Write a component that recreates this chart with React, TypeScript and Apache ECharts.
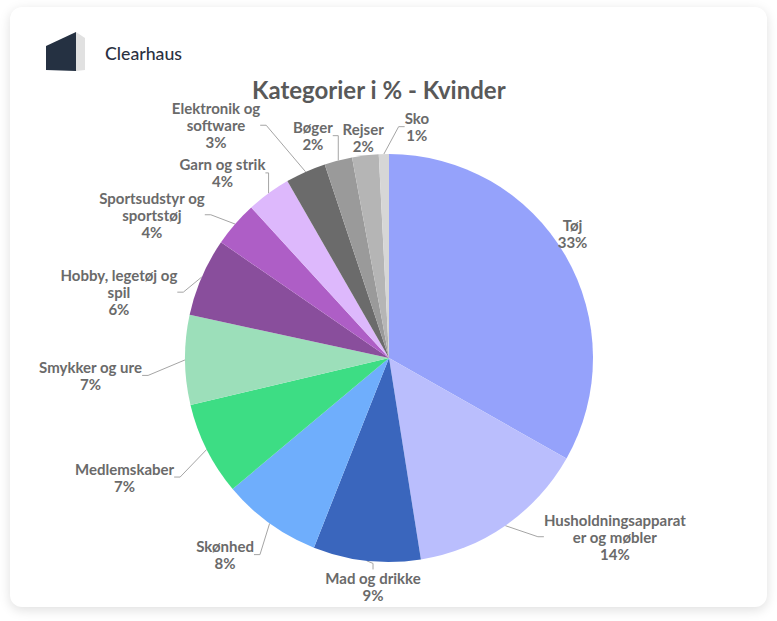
import React, { useEffect, useRef } from "react";
import * as echarts from "echarts";

const categories = [
  "Tøj",
  "Husholdningsapparater og møbler",
  "Mad og drikke",
  "Skønhed",
  "Medlemskaber",
  "Smykker og ure",
  "Hobby, legetøj og spil",
  "Sportsudstyr og sportstøj",
  "Garn og strik",
  "Elektronik og software",
  "Bøger",
  "Rejser",
  "Sko",
];
const labelText = [
  "Tøj",
  "Husholdningsapparat\ner og møbler",
  "Mad og drikke",
  "Skønhed",
  "Medlemskaber",
  "Smykker og ure",
  "Hobby, legetøj og\nspil",
  "Sportsudstyr og\nsportstøj",
  "Garn og strik",
  "Elektronik og\nsoftware",
  "Bøger",
  "Rejser",
  "Sko",
];
const shares = [33.2, 14.3, 8.5, 7.9, 7.4, 7.1, 6.2, 3.6, 3.5, 3.2, 2.2, 2.1, 0.8];
const percentLabels = [33, 14, 9, 8, 7, 7, 6, 4, 4, 3, 2, 2, 1];
const colors = [
  "#95a2fb",
  "#babefd",
  "#3a66bd",
  "#6faefc",
  "#3ddd84",
  "#9cdfba",
  "#894e9c",
  "#ae5ec6",
  "#ddb8fc",
  "#6b6b6b",
  "#9a9a9a",
  "#b5b5b5",
  "#d6d6d6",
];

// layout (label placement relative to each slice's mid-angle)
const CX = 389;
const CY = 358;
const R = 204;
const labelAngleShift = [-4, -16.9, -2.3, 4, 2.4, -2.8, -9.7, -9.9, -5.8, -12.5, -4.5, 0, 8.3];
const labelRadius = [222, 288, 229, 256, 290, 299, 278, 277, 249, 290, 235, 222.5, 233];
const noLine = [0, 11];

const FONT = "Lato, 'Noto Sans', sans-serif";

export default function App() {
  const ref = useRef<HTMLDivElement>(null);

  useEffect(() => {
    if (!ref.current) return;
    const chart = echarts.init(ref.current, undefined, { renderer: "svg" });
    const total = shares.reduce((a, b) => a + b, 0);
    const mids: number[] = [];
    let cum = 0;
    shares.forEach((v) => {
      mids.push(((cum + v / 2) / total) * 360);
      cum += v;
    });

    chart.setOption({
      animation: false,
      backgroundColor: "transparent",
      title: {
        text: "Kategorier i % - Kvinder",
        left: 247,
        top: 72,
        textStyle: {
          fontFamily: FONT,
          fontSize: 24,
          fontWeight: "bold",
          color: "#595959",
        },
      },
      graphic: [
        {
          type: "polygon",
          shape: { points: [[46, 46], [76, 32], [76, 71], [46, 70]] },
          style: { fill: "#253142" },
        },
        {
          type: "polygon",
          shape: { points: [[76, 32], [85, 38], [85, 70], [76, 71]] },
          style: { fill: "#e1e1e1" },
        },
        {
          type: "text",
          x: 105,
          y: 53,
          style: {
            text: "Clearhaus",
            fontFamily: FONT,
            fontSize: 17.7,
            fontWeight: 500,
            fill: "#2a3141",
            verticalAlign: "middle",
          },
        },
      ],
      series: [
        {
          type: "pie",
          center: [CX, CY],
          radius: R,
          startAngle: 90,
          clockwise: true,
          avoidLabelOverlap: false,
          emphasis: { disabled: true },
          itemStyle: { borderWidth: 0 },
          label: {
            show: true,
            position: "outside",
            fontFamily: FONT,
            fontSize: 15,
            fontWeight: "bold",
            lineHeight: 17,
            color: "#6a6a6a",
            formatter: (p: any) => `${labelText[p.dataIndex]}\n${percentLabels[p.dataIndex]}%`,
          },
          labelLine: {
            show: true,
            length: 8,
            length2: 6,
            lineStyle: { color: "#a5a5a5", width: 1 },
          },
          labelLayout: (p: any) => {
            const i = p.dataIndex;
            const a = ((mids[i] + labelAngleShift[i]) * Math.PI) / 180;
            return {
              x: CX + labelRadius[i] * Math.sin(a),
              y: CY - labelRadius[i] * Math.cos(a),
              align: "center",
              verticalAlign: "middle",
            };
          },
          data: categories.map((name, i) => ({
            name,
            value: shares[i],
            itemStyle: { color: colors[i] },
            labelLine: noLine.includes(i) ? { show: false } : undefined,
          })),
        },
      ],
    });
    return () => chart.dispose();
  }, []);

  return (
    <div
      style={{
        position: "fixed",
        left: 0,
        top: 0,
        width: 777,
        height: 621,
        background: "#ffffff",
        overflow: "hidden",
      }}
    >
      <div
        style={{
          position: "absolute",
          left: 10,
          top: 7,
          width: 757,
          height: 600,
          borderRadius: 12,
          background: "#ffffff",
          boxShadow: "0 3px 12px rgba(0,0,0,0.13)",
        }}
      />
      <div ref={ref} style={{ position: "absolute", left: 0, top: 0, width: 777, height: 621 }} />
    </div>
  );
}
